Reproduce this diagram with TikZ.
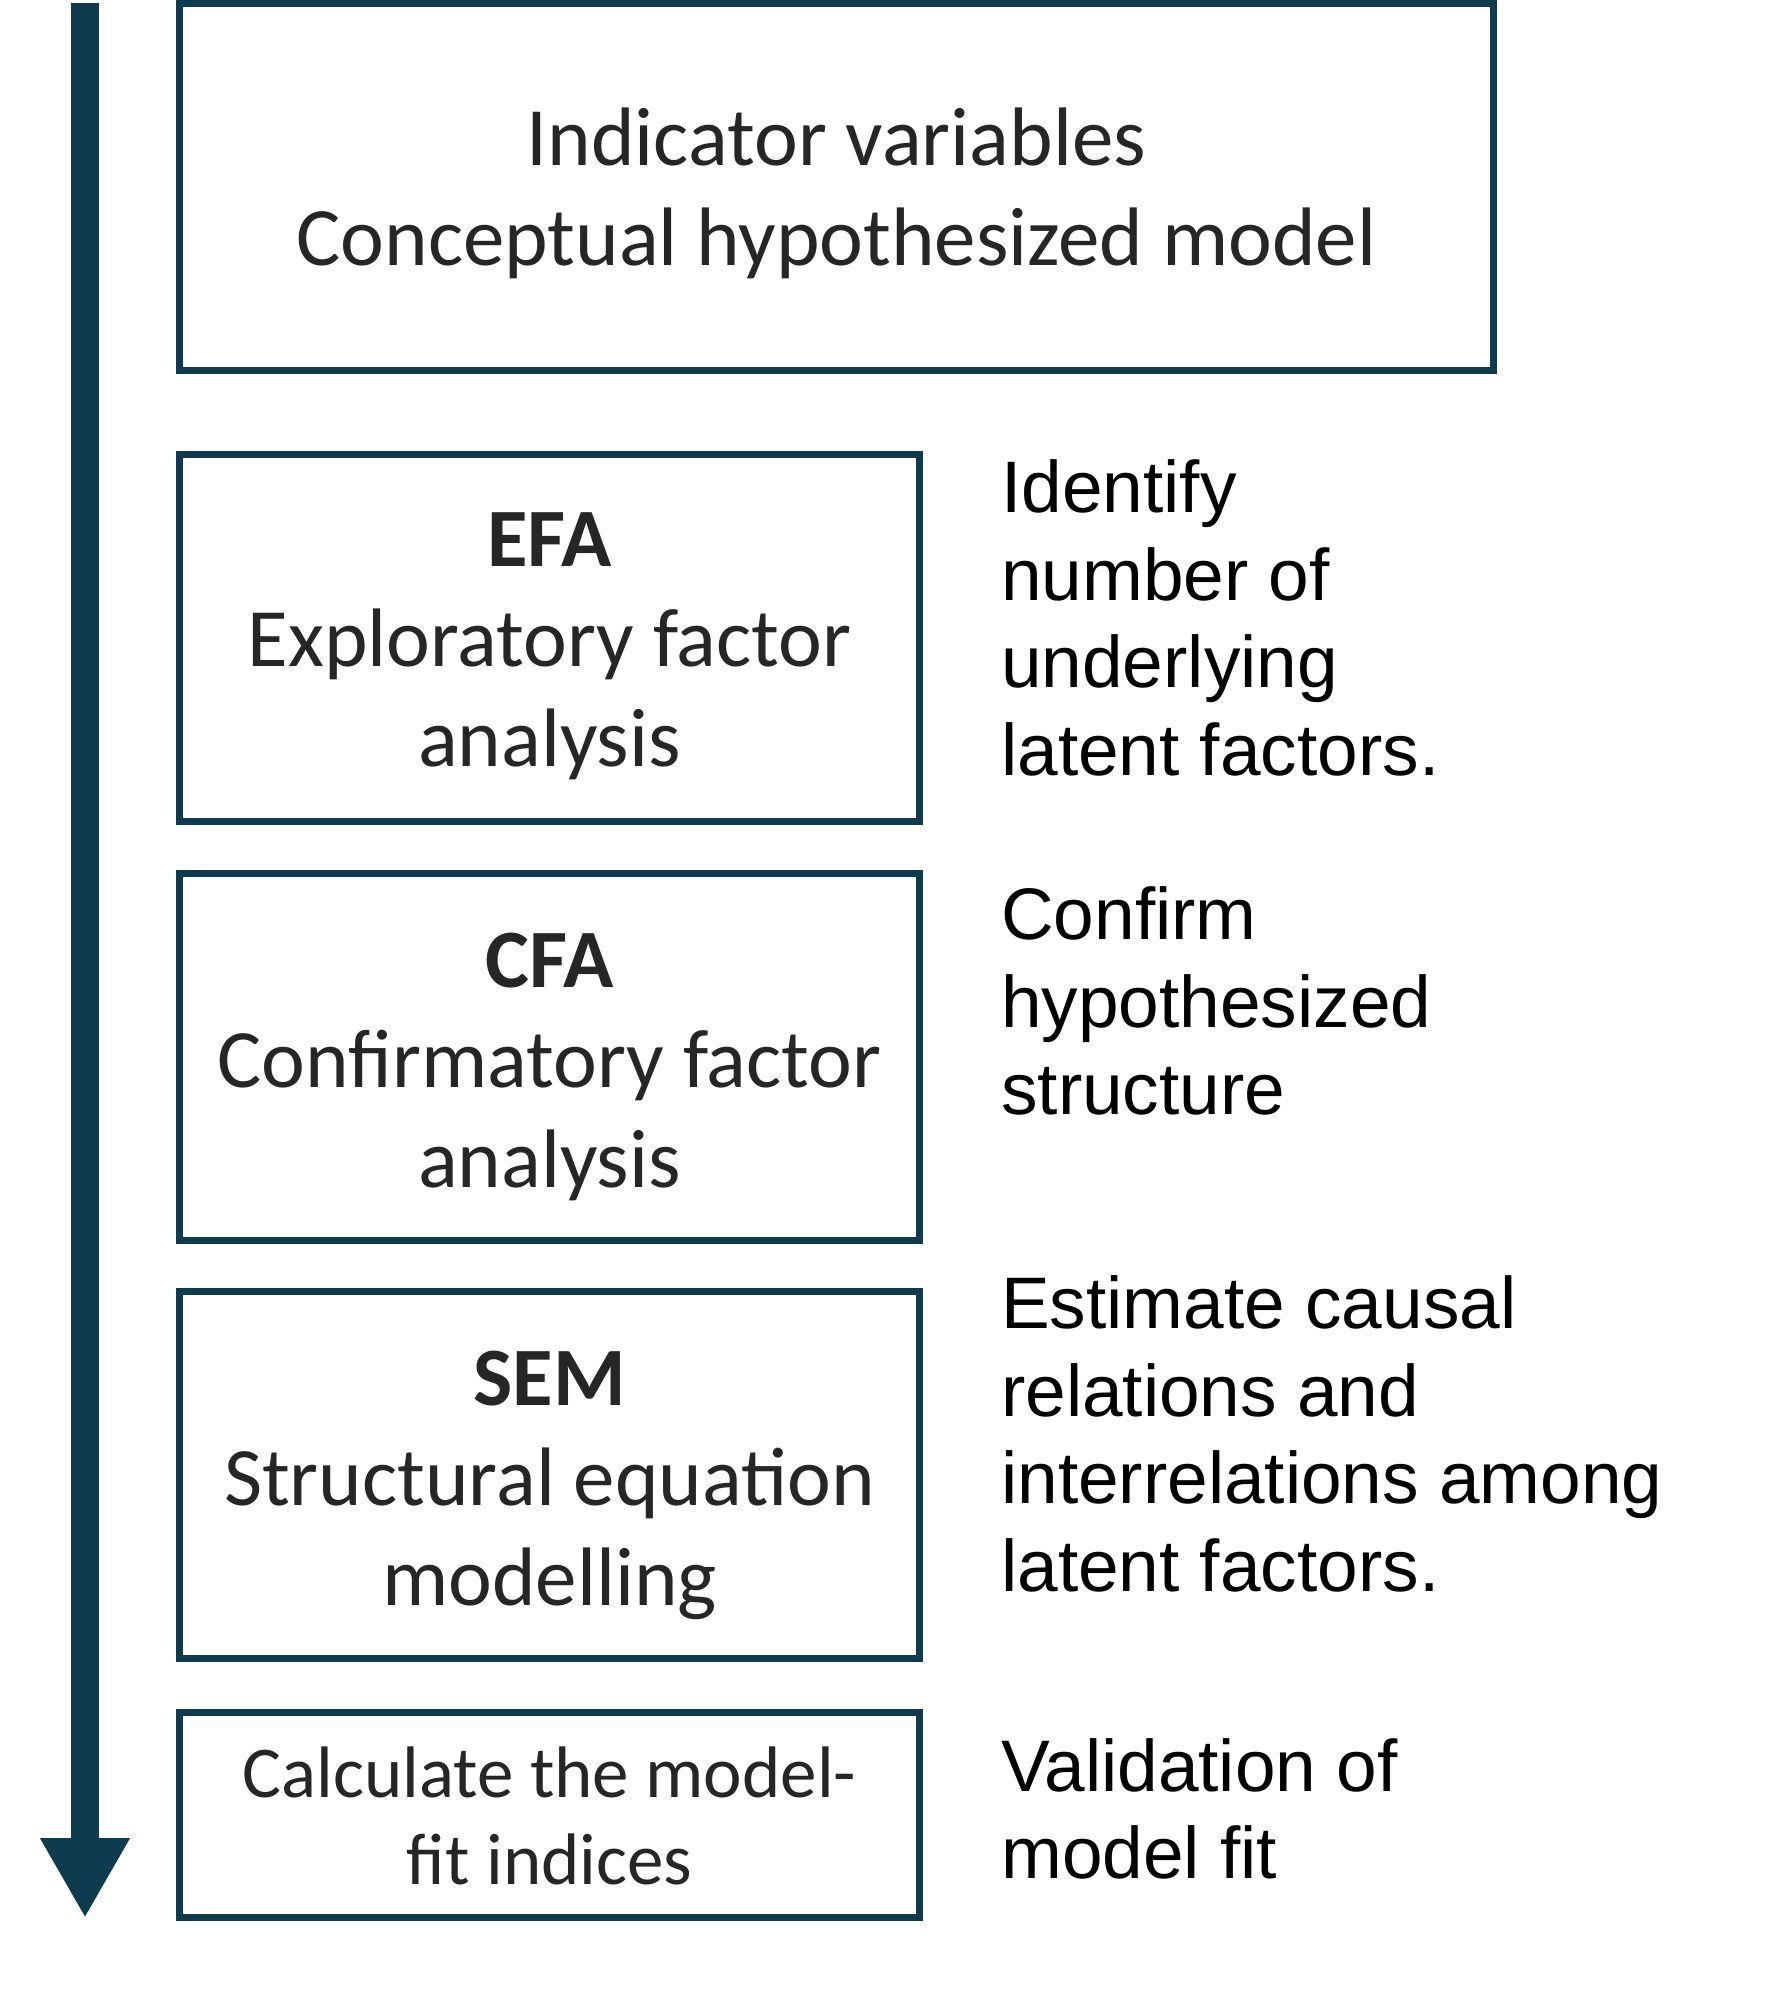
\documentclass[tikz,border=0pt]{standalone}
\usepackage{fontspec}
\setmainfont{Carlito}
\newfontfamily\arialf{Liberation Sans}
\usetikzlibrary{arrows.meta}
\definecolor{frame}{HTML}{0F3B4F}
\definecolor{boxtext}{HTML}{262626}
\begin{document}
\begin{tikzpicture}[x=1pt,y=-1pt,
  stagebox/.style={draw=frame,line width=7pt,minimum width=740pt,minimum height=367pt,inner sep=0pt},
  boxlabel/.style={align=center,inner sep=0pt,text=boxtext,font=\fontsize{83}{100}\selectfont},
  sidetext/.style={anchor=west,align=left,inner sep=0pt,text=black,font=\arialf\fontsize{73}{87.5}\selectfont}]
\useasboundingbox (0,0) rectangle (1779,2006);
\node[stagebox,minimum width=1314pt] (top) at (836.5,187) {};
\node[stagebox] (efa) at (549.5,637.5) {};
\node[stagebox] (cfa) at (549.5,1056.5) {};
\node[stagebox] (sem) at (549.5,1475) {};
\node[stagebox,minimum height=205pt] (calc) at (549.5,1815) {};
\node[boxlabel,yshift=-6pt] (topl) at (top.center) {Indicator variables\\Conceptual hypothesized model};
\node[boxlabel,yshift=-9pt] (efal) at (efa.center) {\textbf{EFA}\\Exploratory factor\\analysis};
\node[boxlabel,yshift=-10pt] (cfal) at (cfa.center) {\textbf{CFA}\\Confirmatory factor\\analysis};
\node[boxlabel,yshift=-10pt] (seml) at (sem.center) {\textbf{SEM}\\Structural equation\\modelling};
\node[boxlabel,font=\fontsize{73}{87}\selectfont,yshift=-1pt] (calcl) at (calc.center) {Calculate the model-\\fit indices};
\node[sidetext] (t1) at (1001,618) {Identify\\number of\\underlying\\latent factors.};
\node[sidetext] (t2) at (1001,1001) {Confirm\\hypothesized\\structure};
\node[sidetext] (t3) at (1001,1434) {Estimate causal\\relations and\\interrelations among\\latent factors.};
\node[sidetext] (t4) at (1001,1809) {Validation of\\model fit};
\coordinate (astart) at (85,3);
\coordinate (aend) at (85,1918);
\draw[frame,line width=28pt,-{Triangle[width=84pt,length=80pt]}] (astart) -- (aend);
\end{tikzpicture}
\end{document}
